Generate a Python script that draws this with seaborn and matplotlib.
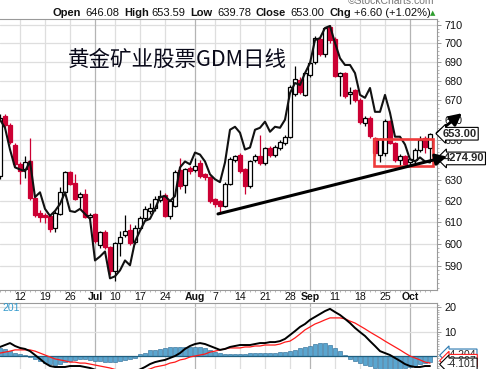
import matplotlib
matplotlib.use("Agg")
import matplotlib.pyplot as plt
import seaborn as sns
from matplotlib.patches import Rectangle
from matplotlib.ticker import FixedLocator, NullFormatter

# trading-day index (0 = Jun 12, 2017), last bar = Oct 6
day = list(range(-4, 83))

opens = [632.0, 662.0, 657.5, 647.6, 637.8, 635.3, 639.2, 621.5, 614.4, 613.4,
         612.9, 607.4, 613.9, 624.2, 633.9, 628.6, 621.9, 623.3, 612.5, 613.9,
         599.2, 605.5, 598.3, 587.4, 600.1, 604.2, 606.5, 601.0, 607.4, 612.1,
         615.3, 616.7, 620.5, 622.9, 613.0, 617.7, 634.8, 627.6, 635.8, 635.1,
         638.3, 632.9, 631.4, 621.0, 620.0, 617.7, 628.1, 639.7, 642.6, 635.3,
         627.1, 639.7, 642.1, 638.3, 646.1, 642.6, 646.1, 648.5, 651.5, 673.3,
         680.6, 672.8, 683.2, 690.3, 702.6, 694.3, 708.9, 702.6, 682.7, 684.2,
         673.3, 675.4, 670.2, 658.6, 661.1, 651.0, 642.6, 643.6, 659.6, 648.5,
         639.7, 641.7, 638.7, 639.7, 645.1, 651.0, 646.08]
highs = [663.0, 663.0, 658.5, 648.5, 638.8, 641.7, 650.7, 622.0, 615.8, 614.4,
         613.4, 615.3, 626.6, 634.4, 634.4, 632.9, 624.2, 625.7, 614.4, 614.4,
         606.0, 606.5, 599.0, 601.0, 605.9, 613.4, 609.3, 608.5, 613.0, 617.5,
         619.0, 622.5, 625.5, 624.0, 620.5, 635.0, 640.7, 636.0, 637.0, 641.0,
         640.0, 633.5, 632.0, 621.5, 620.5, 629.0, 641.5, 642.5, 643.5, 636.0,
         640.0, 643.0, 652.5, 646.5, 647.0, 647.5, 650.0, 652.5, 678.0, 688.0,
         682.0, 685.0, 690.5, 704.0, 704.0, 709.0, 710.0, 703.5, 685.0, 685.0,
         677.0, 676.0, 671.0, 662.0, 662.0, 651.5, 651.0, 660.5, 660.0, 649.0,
         643.0, 642.5, 641.0, 646.0, 652.0, 652.0, 653.59]
lows = [630.5, 656.5, 648.0, 637.0, 628.1, 630.9, 620.5, 612.5, 610.2, 609.7,
        605.6, 605.6, 613.4, 623.8, 627.6, 620.5, 616.7, 612.0, 611.6, 600.5,
        598.0, 597.5, 585.6, 582.9, 594.5, 603.0, 599.5, 600.0, 606.5, 611.0,
        614.0, 615.5, 619.5, 612.5, 611.5, 617.0, 626.0, 624.0, 633.0, 634.0,
        631.0, 630.0, 619.0, 617.0, 613.9, 617.0, 627.5, 639.0, 633.5, 623.3,
        626.5, 639.0, 637.5, 637.5, 641.5, 641.5, 645.0, 647.5, 651.0, 672.5,
        673.5, 672.0, 682.0, 689.0, 693.5, 693.0, 700.0, 682.0, 672.3, 671.0,
        668.0, 669.0, 658.0, 657.0, 651.0, 642.0, 639.0, 642.0, 648.0, 639.0,
        637.0, 636.5, 637.5, 638.5, 644.0, 643.5, 639.78]
closes = [661.0, 657.5, 648.8, 637.8, 634.3, 638.8, 621.5, 613.4, 612.5, 612.5,
          607.0, 614.4, 624.2, 633.9, 628.1, 621.0, 623.3, 612.5, 613.4, 601.4,
          605.5, 598.3, 587.4, 600.1, 603.3, 606.0, 600.1, 607.4, 612.1, 616.3,
          616.7, 621.0, 622.4, 613.0, 620.0, 633.9, 627.1, 635.3, 634.4, 636.8,
          631.9, 631.4, 620.0, 618.6, 617.7, 628.1, 640.2, 641.7, 634.4, 627.1,
          639.2, 642.1, 638.3, 646.1, 642.6, 646.6, 649.0, 651.5, 677.0, 681.1,
          674.4, 684.2, 689.7, 703.1, 694.3, 708.4, 701.8, 682.7, 684.2, 672.3,
          674.4, 670.2, 659.1, 661.1, 651.9, 643.6, 650.5, 659.6, 648.5, 639.7,
          641.7, 637.8, 640.2, 645.1, 650.0, 646.4, 653.00]

# comparison symbol drawn on the price scale (label 4274.90)
overlay = [660.1, 656.0, 645.1, 636.3, 635.3, 634.4, 639.2, 621.9, 624.2, 616.3,
           613.0, 615.3, 618.6, 624.2, 615.3, 614.8, 616.3, 613.9, 611.6, 592.3,
           594.1, 596.4, 584.2, 585.1, 587.8, 592.3, 590.1, 601.0, 606.0, 610.6,
           611.6, 616.3, 621.9, 622.4, 620.0, 622.4, 636.3, 639.2, 637.8, 643.6,
           642.6, 639.2, 632.9, 630.5, 629.1, 638.7, 655.0, 656.5, 653.5, 645.1,
           646.1, 655.0, 656.0, 659.1, 654.0, 656.5, 656.0, 660.1, 673.8, 679.0,
           678.0, 684.2, 689.5, 701.8, 702.9, 708.4, 709.5, 700.3, 692.1, 688.5,
           688.5, 684.2, 672.8, 671.3, 676.4, 664.1, 664.1, 672.8, 663.6, 651.5,
           651.5, 647.6, 640.2, 639.2, 641.2, 639.2, 638.7]

macd = [3.7, 4.5, 5.3, 4.1, 3.3, 2.9, 2.0, 0.4, -1.2, -2.9,
        -4.1, -4.5, -4.5, -4.5, -4.1, -4.1, -4.1, -4.5, -4.9, -5.6,
        -6.3, -6.8, -7.6, -8.0, -7.9, -7.5, -7.0, -6.3, -5.5, -4.5,
        -3.3, -2.5, -2.0, -1.6, -0.8, 0.0, 1.2, 2.9, 4.1, 4.9,
        5.3, 4.9, 4.1, 3.3, 2.5, 2.9, 3.7, 4.1, 4.5, 4.5,
        4.5, 4.9, 5.3, 5.3, 5.7, 5.7, 6.1, 7.0, 8.6, 10.2,
        11.9, 13.1, 14.8, 16.0, 17.2, 18.4, 19.3, 18.0, 16.8, 15.2,
        13.5, 11.5, 9.8, 8.2, 6.1, 4.1, 2.0, 1.2, 0.4, -0.8,
        -2.0, -3.3, -4.1, -4.5, -4.5, -4.1, -4.1]
signal = [1.2, 1.6, 2.0, 2.5, 2.5, 2.5, 2.5, 2.0, 1.2, 0.4,
          -0.4, -1.2, -1.6, -2.0, -2.5, -2.5, -2.9, -2.9, -3.3, -3.7,
          -4.1, -4.5, -4.9, -5.5, -6.0, -6.3, -6.5, -6.4, -6.2, -5.8,
          -5.3, -4.5, -4.1, -3.7, -2.9, -2.5, -1.6, -1.2, -0.4, 0.0,
          0.4, 0.8, 1.6, 2.0, 2.5, 2.9, 3.3, 3.3, 3.3, 3.7,
          3.7, 4.1, 4.1, 4.5, 4.5, 4.5, 4.9, 5.7, 6.1, 7.4,
          9.0, 10.7, 11.9, 13.1, 13.9, 14.8, 15.6, 15.6, 15.6, 15.2,
          14.3, 13.5, 12.3, 11.1, 9.8, 8.6, 7.4, 6.1, 4.9, 3.7,
          2.5, 1.2, 0.0, -0.8, -1.6, -2.5, -2.9]
hist = [3.3, 2.9, 2.0, 1.2, 0.8, 0.4, -0.4, -1.2, -2.0, -2.9,
        -3.3, -3.7, -3.3, -2.5, -2.0, -1.6, -1.2, -1.2, -1.6, -2.0,
        -2.0, -2.5, -2.5, -2.5, -2.0, -1.6, -1.2, -0.8, 0.8, 1.2,
        2.5, 2.5, 2.9, 3.3, 3.5, 3.7, 3.7, 3.7, 3.5, 3.5,
        3.5, 3.3, 2.5, 1.6, 1.2, 1.0, 1.0, 1.0, 1.0, 1.0,
        1.2, 1.2, 1.2, 1.2, 1.2, 1.2, 1.6, 1.6, 2.0, 2.5,
        3.3, 3.7, 4.1, 4.9, 5.3, 5.3, 4.5, 3.3, 2.0, 0.4,
        -1.2, -2.0, -2.9, -3.7, -4.1, -4.9, -5.3, -5.7, -5.7, -5.7,
        -5.3, -4.9, -4.5, -4.1, -3.3, -2.9, -2.5]

tick_days = [0, 5, 10, 15, 19, 24, 29, 35, 39, 44, 49, 54, 58, 63, 68, 73, 78]
tick_labels = ['12', '19', '26', 'Jul', '10', '17', '24', 'Aug', '7', '14',
               '21', '28', 'Sep', '11', '18', '25', 'Oct']
months = ['Jul', 'Aug', 'Sep', 'Oct']
price_ticks = [590, 600, 610, 620, 630, 640, 650, 660, 670, 680, 690, 700, 710]
macd_ticks = [10, 20]

# hand-drawn marks: trend line, arrow, highlight box
trend_from, trend_to = (39.6, 613.9), (85.4, 641.6)
arrow_from, arrow_to = (83.4, 653.3), (88.4, 663.4)
box_x, box_p = (70.8, 82.6), (636.8, 650.5)

W, H = 489, 369
sns.set_theme(style='white')
plt.rcParams['font.family'] = ['Liberation Sans', 'DejaVu Sans']


def fx(x):
    return x / W


def fy(y):
    return 1 - y / H


fig = plt.figure(figsize=(W / 100, H / 100), dpi=100)
ax = fig.add_axes([0, fy(289.5), fx(437.5), (289.5 - 19) / H])
mx = fig.add_axes([0, fy(420), fx(437.5), (420 - 303) / H])

red = '#cc0033'
light, dark = '#dedede', '#b4b4b4'

# ---- price panel ----
ax.set_yscale('log')
ax.set_ylim(579.2, 713.3)
ax.set_xlim(-4, 83.5)
for p in price_ticks:
    ax.axhline(p, color=light, lw=0.9, zorder=0)
for d, lab in zip(tick_days, tick_labels):
    c = dark if lab in months else light
    ax.axvline(d, color=c, lw=0.9, zorder=0)
    mx.axvline(d, color=c, lw=0.9, zorder=0)

up = [c >= o for o, c in zip(opens, closes)]
cols = ['black' if u else red for u in up]
ax.vlines(day, lows, highs, colors=cols, lw=0.9, zorder=2)
bottoms = [min(o, c) for o, c in zip(opens, closes)]
heights = [max(abs(c - o), 0.4) for o, c in zip(opens, closes)]
ax.bar(day, heights, bottom=bottoms, width=0.64,
       color=['white' if u else red for u in up], edgecolor=cols,
       lw=0.9, zorder=3)

sns.lineplot(x=day, y=overlay, ax=ax, color='#111111', lw=1.5, zorder=4,
             legend=False)

ax.add_patch(Rectangle((box_x[0], box_p[0]), box_x[1] - box_x[0],
                       box_p[1] - box_p[0], fill=False, ec='#ee3b3b',
                       lw=1.9, zorder=5))
ax.annotate('', xy=trend_to, xytext=trend_from, annotation_clip=False,
            arrowprops=dict(arrowstyle='-|>,head_length=0.55,head_width=0.28',
                            color='black', lw=2.2, shrinkA=0, shrinkB=0),
            zorder=7)
ax.annotate('', xy=arrow_to, xytext=arrow_from, annotation_clip=False,
            arrowprops=dict(arrowstyle='-|>,head_length=0.6,head_width=0.3',
                            color='black', lw=2.0, shrinkA=0, shrinkB=0),
            zorder=8)

ax.yaxis.tick_right()
ax.set_yticks(price_ticks)
ax.set_yticklabels([str(p) for p in price_ticks])
ax.yaxis.set_minor_locator(FixedLocator(list(range(580, 714, 2))))
ax.yaxis.set_minor_formatter(NullFormatter())
ax.tick_params(axis='y', which='major', right=True, left=False, length=3,
               width=0.6, color='#888888', pad=2, labelsize=7.8,
               labelcolor='#111111')
ax.tick_params(axis='y', which='minor', right=True, left=False, length=1.5,
               width=0.5, color='#999999')
ax.set_xticks(tick_days)
ax.set_xticklabels(tick_labels)
ax.xaxis.set_minor_locator(FixedLocator(day))
ax.tick_params(axis='x', which='major', bottom=True, length=0, pad=1.5,
               labelsize=7.6, labelcolor='#111111')
ax.tick_params(axis='x', which='minor', bottom=True, length=1.5, width=0.5,
               color='#999999')
for t in ax.get_xticklabels():
    if t.get_text() in months:
        t.set_fontweight('bold')
for s in ['top', 'right', 'bottom']:
    ax.spines[s].set_color('#9a9a9a')
    ax.spines[s].set_linewidth(0.8)
ax.spines['left'].set_visible(False)
ax.set_facecolor('none')

ax.text(1.012, 653.0, '653.00', transform=ax.get_yaxis_transform(),
        fontsize=8, fontweight='bold', va='center', ha='left', zorder=9,
        bbox=dict(boxstyle='larrow,pad=0.12', fc='white', ec='black', lw=0.8))
ax.text(1.014, 640.7, '4274.90', transform=ax.get_yaxis_transform(),
        fontsize=8, fontweight='bold', va='center', ha='left', zorder=6,
        bbox=dict(boxstyle='larrow,pad=0.12', fc='white', ec='black', lw=0.8))

# ---- MACD panel ----
mx.set_xlim(-4, 83.5)
mx.set_ylim(-26.2, 21.7)
for v in macd_ticks:
    mx.axhline(v, color=light, lw=0.9, zorder=0)
mx.bar(day, hist, width=0.9, color='#5aa6d0', edgecolor='#23648f', lw=0.4,
       zorder=2)
mx.axhline(0, color='#1f5f80', lw=0.9, zorder=2)
sns.lineplot(x=day, y=signal, ax=mx, color='#ff1a1a', lw=0.9, zorder=3,
             legend=False)
sns.lineplot(x=day, y=macd, ax=mx, color='black', lw=1.4, zorder=4,
             legend=False)
mx.yaxis.tick_right()
mx.set_yticks(macd_ticks)
mx.set_yticklabels([str(v) for v in macd_ticks])
mx.yaxis.set_minor_locator(FixedLocator(list(range(-26, 22))))
mx.tick_params(axis='y', which='major', right=True, left=False, length=3,
               width=0.6, color='#888888', pad=2, labelsize=7.8,
               labelcolor='#111111')
mx.tick_params(axis='y', which='minor', right=True, left=False, length=1.5,
               width=0.5, color='#999999')
mx.set_xticks([])
for s in ['top', 'right']:
    mx.spines[s].set_color('#9a9a9a')
    mx.spines[s].set_linewidth(0.8)
for s in ['left', 'bottom']:
    mx.spines[s].set_visible(False)
mx.set_facecolor('none')

yt = mx.get_yaxis_transform()
mx.text(1.02, 0.3, '-4.204', transform=yt, fontsize=7.5, va='center',
        ha='left', zorder=5,
        bbox=dict(boxstyle='larrow,pad=0.12', fc='white', ec='#2a78b0', lw=0.8))
mx.text(1.02, -1.9, '-2.897', transform=yt, fontsize=7.5, va='center',
        ha='left', zorder=6,
        bbox=dict(boxstyle='larrow,pad=0.12', fc='white', ec='#ff1a1a', lw=0.8))
mx.text(1.02, -3.4, '-4.101', transform=yt, fontsize=7.5, va='center',
        ha='left', zorder=7,
        bbox=dict(boxstyle='larrow,pad=0.12', fc='white', ec='black', lw=0.8))
fig.text(fx(2), fy(308), '201', fontsize=7.5, color='#3399cc', va='center',
         ha='left')

# ---- header texts ----
header = [('Open', 53, True), ('646.08', 85, False), ('High', 124, True),
          ('653.59', 151, False), ('Low', 190, True), ('639.78', 217, False),
          ('Close', 256, True), ('653.00', 290, False), ('Chg', 330, True),
          ('+6.60 (+1.02%)', 354, False)]
for txt, xp, b in header:
    fig.text(fx(xp), fy(13), txt, fontsize=8, va='center', ha='left',
             fontweight='bold' if b else 'normal', color='#111111')
fig.text(fx(430), fy(13), '\u25b2', fontsize=5, color='#2e9e2e',
         va='center', ha='left', family=['DejaVu Sans'])
fig.text(fx(348), fy(1), '\u00a9StockCharts.com', fontsize=7.5,
         color='#777777', va='center', ha='left')

fig.text(fx(177), fy(60), '黄金矿业股票GDM日线', fontsize=15.5,
         family=['Noto Sans CJK SC', 'DejaVu Sans'], color='#0a0a1a',
         ha='center', va='center')

fig.savefig('out.png', dpi=100)
